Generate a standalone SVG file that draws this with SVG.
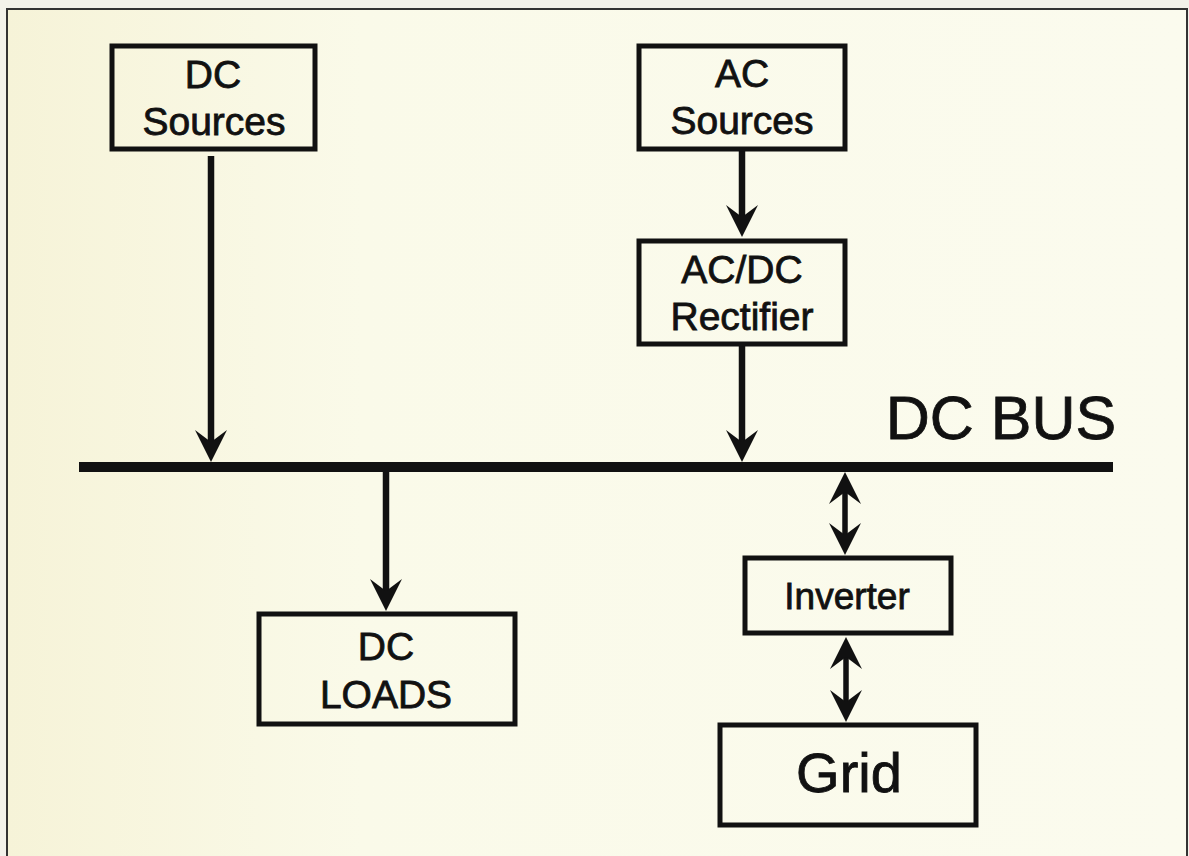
<svg xmlns="http://www.w3.org/2000/svg" width="1189" height="856" viewBox="0 0 1189 856">
  <defs>
    <linearGradient id="paper" x1="0" y1="0" x2="1" y2="0">
      <stop offset="0" stop-color="#f6f3d8"/>
      <stop offset="0.3" stop-color="#fafae9"/>
      <stop offset="1" stop-color="#fbfbee"/>
    </linearGradient>
    <marker id="ah" viewBox="0 0 32 32" refX="22" refY="16" markerWidth="32" markerHeight="32" markerUnits="userSpaceOnUse" orient="auto-start-reverse">
      <path d="M32,16 L0,0 L12,16 L0,32 Z" fill="#111"/>
    </marker>
  </defs>
  <style>
    .box { fill: none; stroke: #111; stroke-width: 5; }
    .lbl { font-family: "Liberation Sans", Arial, sans-serif; fill: #111; stroke: #111; stroke-width: 0.8; text-anchor: middle; }
    .wire { stroke: #111; stroke-width: 6.5; fill: none; }
    .wire2 { stroke: #111; stroke-width: 5.5; fill: none; }
  </style>
  <rect x="0" y="0" width="1189" height="856" fill="#f3f2ea"/>
  <rect x="7" y="9" width="1180" height="850" fill="url(#paper)" stroke="#333" stroke-width="2"/>

  <g id="connectors">
    <line id="bus" x1="79" y1="467" x2="1113" y2="467" stroke="#111" stroke-width="10"/>
    <line class="wire" x1="211" y1="156" x2="211" y2="452" marker-end="url(#ah)"/>
    <line class="wire" x1="742" y1="151" x2="742" y2="227" marker-end="url(#ah)"/>
    <line class="wire" x1="742" y1="346" x2="742" y2="452" marker-end="url(#ah)"/>
    <line class="wire" x1="386" y1="472" x2="386" y2="601" marker-end="url(#ah)"/>
    <line class="wire2" x1="845" y1="482" x2="845" y2="545" marker-start="url(#ah)" marker-end="url(#ah)"/>
    <line class="wire2" x1="846" y1="647" x2="846" y2="712" marker-start="url(#ah)" marker-end="url(#ah)"/>
  </g>

  <g id="dc-sources">
    <rect class="box" x="112" y="46" width="203" height="103"/>
    <text class="lbl" x="213" y="88" font-size="39">DC</text>
    <text class="lbl" x="214" y="135" font-size="39">Sources</text>
  </g>

  <g id="ac-sources">
    <rect class="box" x="639" y="46" width="206" height="103"/>
    <text class="lbl" x="742" y="87" font-size="39">AC</text>
    <text class="lbl" x="742" y="134" font-size="39">Sources</text>
  </g>

  <g id="rectifier">
    <rect class="box" x="639" y="241" width="206" height="103"/>
    <text class="lbl" x="742" y="283" font-size="39">AC/DC</text>
    <text class="lbl" x="742" y="330" font-size="39">Rectifier</text>
  </g>

  <g id="dc-bus-label">
    <text class="lbl" x="1001" y="439" font-size="61">DC BUS</text>
  </g>

  <g id="dc-loads">
    <rect class="box" x="259" y="614" width="256" height="110"/>
    <text class="lbl" x="386" y="660" font-size="39">DC</text>
    <text class="lbl" x="386" y="708" font-size="39">LOADS</text>
  </g>

  <g id="inverter">
    <rect class="box" x="745" y="558" width="206" height="75"/>
    <text class="lbl" x="847" y="609" font-size="37">Inverter</text>
  </g>

  <g id="grid">
    <rect class="box" x="720" y="725" width="256" height="100"/>
    <text class="lbl" x="849" y="792" font-size="56">Grid</text>
  </g>
</svg>
